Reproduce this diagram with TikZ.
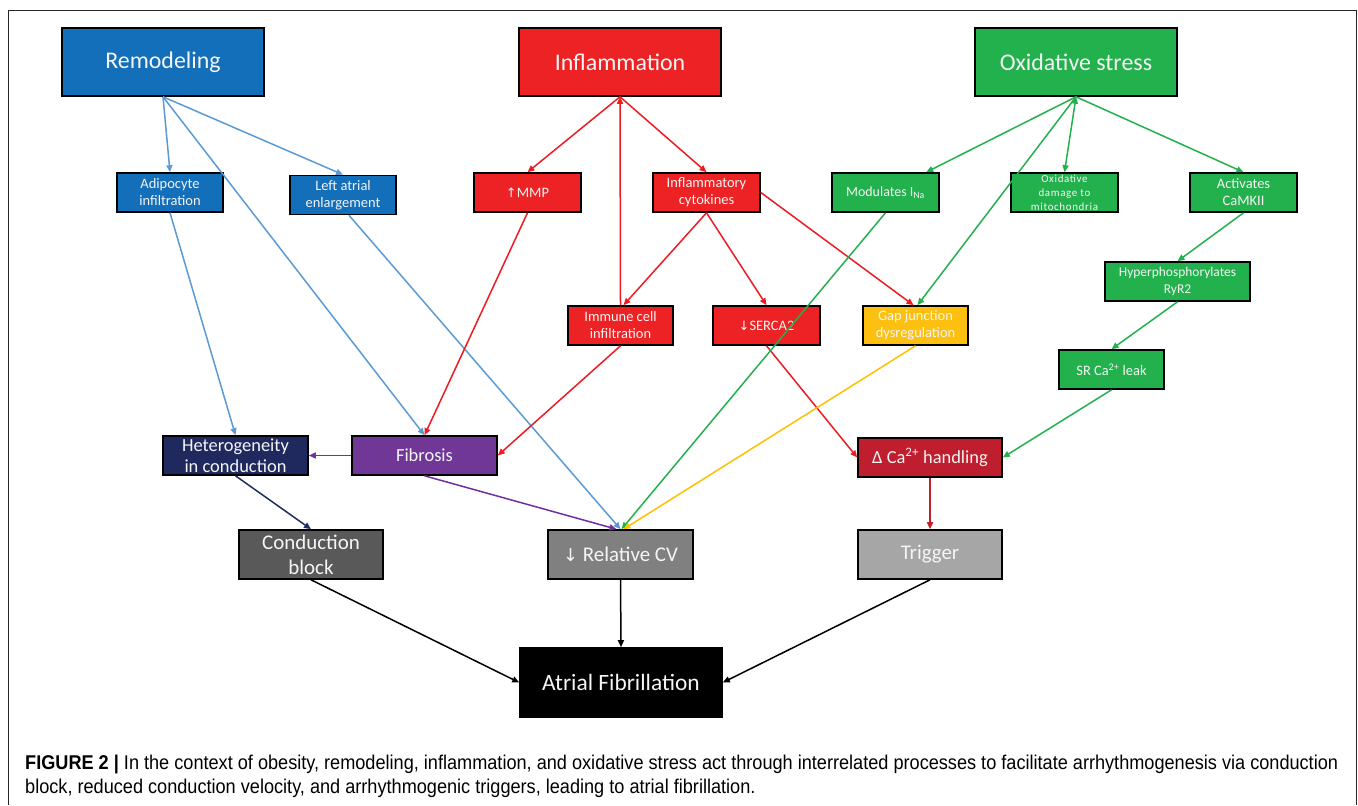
\documentclass[tikz,border=0pt]{standalone}
\usepackage{fontspec}
\setmainfont{Carlito}
\newfontfamily\capfont[FakeStretch=0.91]{Liberation Sans}
\newfontfamily\symfont{DejaVu Sans}
\usetikzlibrary{arrows.meta,calc}
\definecolor{cRem}{RGB}{20,111,186}
\definecolor{cInf}{RGB}{237,34,36}
\definecolor{cOx}{RGB}{34,177,76}
\definecolor{cGap}{RGB}{253,192,16}
\definecolor{cDca}{RGB}{190,30,45}
\definecolor{cHet}{RGB}{32,41,94}
\definecolor{cFib}{RGB}{112,55,150}
\definecolor{cCb}{RGB}{89,89,89}
\definecolor{cRcv}{RGB}{128,128,128}
\definecolor{cTrig}{RGB}{166,166,166}
\definecolor{aBlue}{RGB}{91,155,213}
\definecolor{aRed}{RGB}{237,28,36}
\definecolor{aGreen}{RGB}{34,177,76}
\definecolor{aYel}{RGB}{255,192,0}
\definecolor{aPur}{RGB}{112,48,160}
\definecolor{aNavy}{RGB}{31,45,94}
\definecolor{aDred}{RGB}{192,32,40}
\definecolor{txt}{RGB}{245,245,245}
\tikzset{
  boxbase/.style={draw=black, line width=1.6bp, text=txt, align=center, inner sep=0pt},
  bigbox/.style={boxbase, minimum width=202bp, minimum height=68bp, font=\fontsize{24}{29}\selectfont},
  smallbox/.style={boxbase, minimum width=106bp, minimum height=39bp, font=\fontsize{14.5}{17}\selectfont},
  midbox/.style={boxbase, minimum width=145bp, minimum height=39bp, font=\fontsize{18.5}{21}\selectfont},
  lowbox/.style={boxbase, minimum width=144bp, minimum height=49bp, font=\fontsize{21}{25}\selectfont},
  arr/.style={-{Triangle[length=7bp,width=6bp]}, line width=1.5bp},
  captext/.style={anchor=west, inner sep=0pt, text=black, font=\capfont\fontsize{20}{24}\selectfont}
}
\begin{document}
\begin{tikzpicture}[x=1bp,y=-1bp]
\useasboundingbox (0,0) rectangle (1358,805);
\fill[white] (0,0) rectangle (1358,805);
% frame
\draw[line width=1bp, black!85] (8,805) -- (8,11) -- (1356,11) -- (1356,805);

% top level
\node[bigbox, fill=cRem] (remod) at (163,62) {Remodeling};
\node[bigbox, fill=cInf] (infl) at (620,62) {Inflammation};
\node[bigbox, fill=cOx] (ox) at (1076,62) {Oxidative stress};

% second row
\node[smallbox, fill=cRem] (adipo) at (170,192.5) {Adipocyte\\infiltration};
\node[smallbox, fill=cRem] (lae) at (343,195) {Left atrial\\enlargement};
\node[smallbox, fill=cInf, minimum width=107bp] (mmp) at (527.5,192.5) {{\symfont\fontsize{13}{15}\selectfont ↑}MMP};
\node[smallbox, fill=cInf, minimum width=107bp] (cyto) at (706.5,192.5) {Inflammatory\\cytokines};
\node[smallbox, fill=cOx, minimum width=107bp, font=\fontsize{14}{17}\selectfont] (mod) at (885.5,192.5) {Modulates I\textsubscript{Na}};
\node[smallbox, fill=cOx, minimum width=107bp, font=\addfontfeatures{LetterSpace=6}\fontsize{11}{14.3}\selectfont] (oxd) at (1064.5,192.5) {Oxidative\\damage to\\mitochondria};
\node[smallbox, fill=cOx, minimum width=107bp] (camk) at (1243.5,192.5) {Activates\\CaMKII};
\node[smallbox, fill=cOx, minimum width=145bp, font=\fontsize{13.5}{17}\selectfont] (hyp) at (1177.5,281.5) {Hyperphosphorylates\\RyR2};
\node[smallbox, fill=cOx, minimum width=105bp] (sr) at (1111.5,369.5) {SR Ca\textsuperscript{2+} leak};

% third row
\node[smallbox, fill=cInf, minimum width=105bp] (imm) at (620.5,325.5) {Immune cell\\infiltration};
\node[smallbox, fill=cInf, minimum width=107bp] (serca) at (766.5,325.5) {{\symfont\fontsize{13}{15}\selectfont ↓}SERCA2};
\node[smallbox, fill=cGap, minimum width=105bp] (gap) at (915.5,325.5) {Gap junction\\dysregulation};

% fourth row
\node[midbox, fill=cHet] (het) at (235.5,455.5) {Heterogeneity\\in conduction};
\node[midbox, fill=cFib] (fib) at (424.5,455.5) {Fibrosis};
\node[midbox, fill=cDca, minimum width=144bp] (dca) at (930,457.5) {Δ Ca\textsuperscript{2+} handling};

% fifth row
\node[lowbox, fill=cCb] (cb) at (311,554.5) {Conduction\\block};
\node[lowbox, fill=cRcv, minimum width=145bp] (rcv) at (620.5,554.5) {{\symfont\fontsize{18}{21}\selectfont ↓} Relative CV};
\node[lowbox, fill=cTrig] (trig) at (930,554.5) {Trigger};

% bottom
\node[bigbox, fill=black, minimum height=69bp, font=\fontsize{23.5}{28}\selectfont] (af) at (621,682.5) {Atrial Fibrillation};

% blue connectors
\draw[arr, aBlue] (remod.south) -- (adipo.north);
\draw[arr, aBlue] (remod.south) -- (lae.north);
\draw[arr, aBlue] (remod.south) -- (fib.north);
\draw[arr, aBlue] (adipo.south) -- (het.north);
\draw[arr, aBlue] ($(lae.south)+(6,0)$) -- (rcv.north);

% red connectors
\draw[arr, aRed] (infl.south) -- (mmp.north);
\draw[arr, aRed] (infl.south) -- (cyto.north);
\draw[arr, aRed] (imm.north) -- (infl.south);
\draw[arr, aRed] (cyto.south) -- ($(imm.north)+(3,0)$);
\draw[arr, aRed] (cyto.south) -- (serca.north);
\draw[arr, aRed] (cyto.east) -- ($(gap.north)+(-2,0)$);
\draw[arr, aRed] (mmp.south) -- (fib.north);
\draw[arr, aRed] (imm.south) -- (fib.east);
\draw[arr, aRed] (serca.south) -- (dca.west);

% green connectors
\draw[arr, aGreen] (ox.south) -- ($(mod.north)!0.75!(mod.north east)$);
\draw[{Triangle[length=7bp,width=6bp]}-{Triangle[length=7bp,width=6bp]}, line width=1.5bp, aGreen] (ox.south) -- (oxd.north);
\draw[arr, aGreen] (ox.south) -- (camk.north);
\draw[arr, aGreen] (ox.south) -- ($(gap.north)+(2,0)$);
\draw[arr, aGreen] (mod.south) -- ($(rcv.north)+(1,0)$);
\draw[arr, aGreen] (camk.south) -- (hyp.north);
\draw[arr, aGreen] (hyp.south) -- (sr.north);
\draw[arr, aGreen] (sr.south) -- (dca.east);

% yellow
\draw[arr, aYel] (gap.south) -- ($(rcv.north)+(3,0)$);

% purple
\draw[arr, aPur] (fib.west) -- (het.east);
\draw[arr, aPur] (fib.south) -- ($(rcv.north)+(-4,0)$);

% navy
\draw[arr, aNavy] (het.south) -- (cb.north);

% dark red
\draw[arr, aDred] (dca.south) -- (trig.north);

% black
\draw[arr, black] (cb.south) -- (af.west);
\draw[arr, black] (rcv.south) -- (af.north);
\draw[arr, black] (trig.south) -- (af.east);

% caption
\node[captext] (cap1) at (25,764) {{\bfseries FIGURE 2 |} In the context of obesity, remodeling, inflammation, and oxidative stress act through interrelated processes to facilitate arrhythmogenesis via conduction};
\node[captext] (cap2) at (25,788) {block, reduced conduction velocity, and arrhythmogenic triggers, leading to atrial fibrillation.};
\end{tikzpicture}
\end{document}
